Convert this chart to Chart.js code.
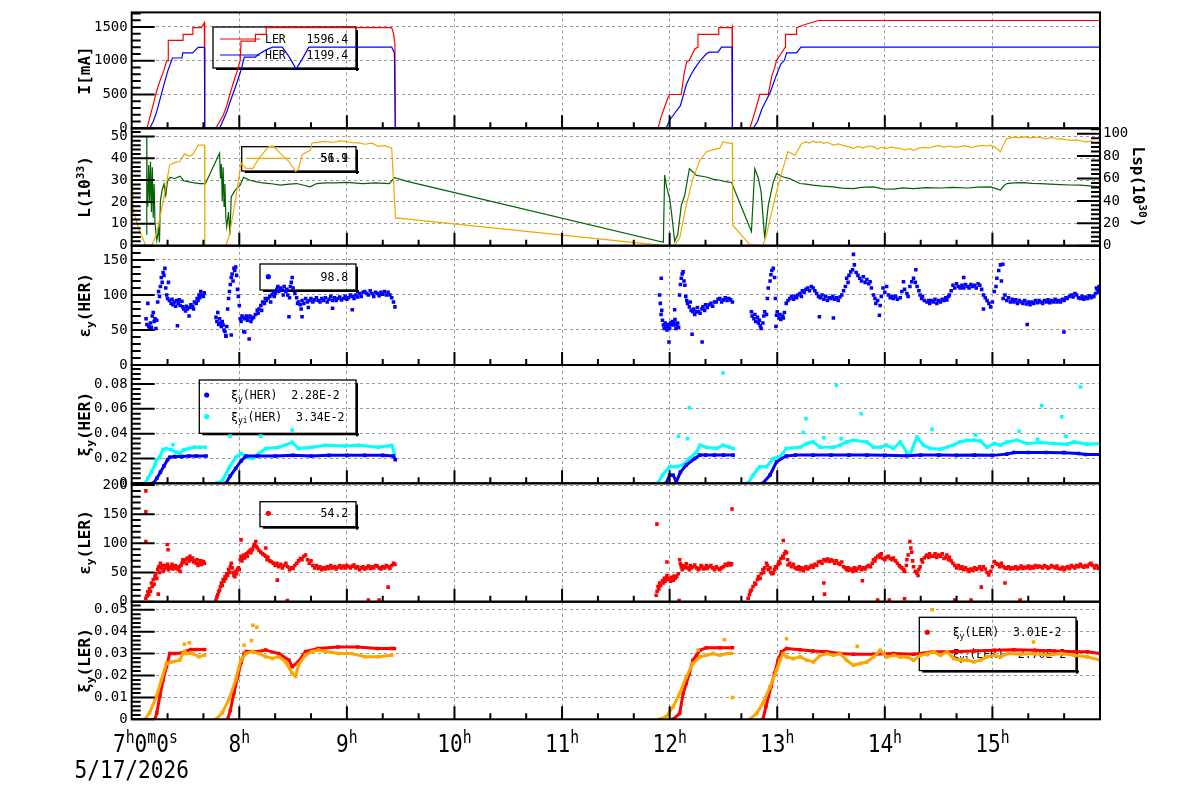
<!DOCTYPE html>
<html>
<head>
<meta charset="utf-8">
<script src="https://cdn.jsdelivr.net/npm/chart.js@4.4.1/dist/chart.umd.min.js"></script>
<style>
  html, body { margin: 0; padding: 0; background: #fff; }
  #wrap { position: relative; width: 1200px; height: 798px; overflow: hidden; }
  #wrap canvas { position: absolute; left: 0; top: 0; }
</style>
</head>
<body>
<div id="wrap"></div>
<script>
// x values are minutes after 07:00 (5/17/2026)
const hourTicks = [60, 120, 180, 240, 300, 360, 420, 480];
const hourLabels = ['8', '9', '10', '11', '12', '13', '14', '15'];

const iTicks = [0, 500, 1000, 1500];
const lumiTicks = [0, 10, 20, 30, 40, 50];
const lspTicks = [0, 20, 40, 60, 80, 100];
const emitHERTicks = [0, 50, 100, 150];
const xiHERTicks = [0, 0.02, 0.04, 0.06, 0.08];
const emitLERTicks = [0, 50, 100, 150, 200];
const xiLERTicks = [0, 0.01, 0.02, 0.03, 0.04, 0.05];

// beam currents [mA]
const currentLER = [[0,0],[8.5,0],[10,150],[12,350],[14,560],[16,720],[18,860],[19.5,1000],[20.3,1000],[20.4,1300],[28.6,1300],[28.7,1390],[34,1390],[34.1,1490],[38.8,1490],[40.5,1560],[40.7,1560],[40.8,0],
  [47,0],[49,100],[51,190],[53,330],[55,527],[57,700],[59,863],[60.5,1006],[61,1290],[68.9,1290],[69,1390],[74.9,1390],[75,1490],[145,1490],[146,1400],[146.8,1246],[147,0],
  [293.5,0],[295,150],[297,300],[299,450],[300,500],[306.5,500],[308,800],[309.5,982],[311,1006],[314,1174],[315.7,1200],[315.8,1390],[327.3,1390],[327.4,1490],[334.7,1490],[334.8,1500],[335,0],
  [344.7,0],[346.5,150],[348.5,330],[350.3,503],[355,503],[357,780],[358.5,887],[359.6,1006],[362,1100],[364.5,1200],[364.6,1390],[370.7,1390],[370.8,1490],[376,1540],[383,1595],[540,1595]];
const currentHER = [[0,0],[10,0],[12,100],[14,250],[16,450],[18,650],[20,838],[22.7,1040],[28,1040],[28.5,1117],[34,1117],[37,1198],[40.6,1198],[40.7,0],
  [49,0],[51,120],[53,240],[55,400],[58,623],[61,862],[62.8,1054],[69,1054],[71,1100],[75,1160],[78.5,1200],[84,1200],[88,1050],[91.7,877],[95,1020],[98.8,1200],[145,1200],[146.5,1120],[147,0],
  [298,0],[300,120],[303,230],[306,335],[309.3,647],[312,800],[314,887],[317,1000],[320.5,1102],[322,1126],[327,1126],[328.9,1200],[334.8,1200],[335,0],
  [346.6,0],[349,100],[351.5,288],[356,527],[359.6,790],[362,950],[364,1006],[365.2,1117],[370.8,1117],[373.2,1200],[540,1200]];

// luminosity L [1e33] (left) and Lsp [1e30] (right)
const lumi = [[0,38.5],[1,15.6],[4.6,6.4],[7.9,0],[11,0],[13.8,5],[17.5,20],[21.2,37],[24,38],[26.8,38.5],[29.5,42],[32,41],[34,41.6],[37,46],[40.6,46],[40.8,0],
  [52.6,0],[54.5,5],[58,21.7],[61,37.8],[63.7,35.5],[67.4,35.3],[71,40],[74,43],[76.6,45.4],[79,45.5],[82,43],[85,40.5],[87.7,38.5],[91.4,34],[93,35],[95,41.6],[97,42.5],[99.5,43.6],[100.6,47],[104,47.3],[108,47.7],[112,47.2],[116,47.9],[119,47.7],[123,47.1],[126.5,47],[130,46.4],[134,46.9],[137.5,45.4],[141,45.8],[145,44.6],[146,30],[147.1,12.5],[148.7,12.6],[297,0],
  [302.5,0],[305.6,3.5],[309.3,18.7],[313,30.8],[316.8,39],[320.5,43],[324,43.8],[328,44.6],[329.8,47.6],[332,47],[335,46.8],[335.1,9.5],[344.7,0.5],[352,0],[354,5],[357.8,18.6],[361.5,30.8],[366,43],[369.9,41.4],[373.6,46.8],[376,47.5],[378,46.9],[380,47.8],[382,47.2],[383.8,47.6],[386,46.8],[388,47.3],[391.3,46],[394,46.6],[397,45.8],[400,45.2],[402.5,44.5],[405,45.4],[408,44.8],[411,45.6],[413.7,45.3],[416,44.2],[418,45],[421,44.5],[424,45.2],[426,44.6],[428.6,44.5],[431,43.8],[434,44.4],[436,43.6],[439,44.6],[442,45],[445,44.7],[447,45.3],[450,45.8],[453,45.1],[456,45.6],[459,45],[462,45.3],[465,45.8],[468,44.9],[471,45.4],[474,45.9],[477,45.6],[479,46],[481,45.2],[483,44],[484.5,43],[486,46],[488,49],[490,49.3],[492,49.7],[495,49.4],[498,49.8],[501,49.3],[504,49.6],[507,49.5],[510,48.9],[513,49.5],[516,48.8],[518,49],[521,48.5],[524,48.2],[527,48.4],[529,48],[532,47.5],[535,47.8],[537,47],[539,47.3],[540,46]];
const lumiSp = [[8.2,10],[8.4,98],[8.6,40],[9,35],[9.5,72],[10,40],[10.5,75],[11,30],[11.5,70],[12,25],[12.5,55],[13,20],[14,5],[15,15],[15.5,3],[16,40],[17,50],[18,55],[19,45],[20,58],[21.4,61],[24,60],[27,62],[29,58],[32,57],[35,56],[38,55.5],[40,55.5],[41,55],[49,82.6],[49.5,60],[50,73],[50.5,40],[51,70],[51.5,35],[52,55],[52.5,25],[53,17],[54,30],[54.8,9.7],[55.5,43.6],[57.7,49.6],[60.5,54],[62.4,61],[66,58.4],[69.8,57],[73,56],[77.2,55.5],[82.8,54],[88,55],[92,55.5],[96,54],[99.5,52.5],[103.2,55.5],[108,56],[114,56],[120,56.5],[129,55.5],[136,56],[143.6,55.5],[146.5,60.8],[154.8,57],[296.5,3],
  [297.2,63],[298,55],[299,48],[300,42],[301,30],[302.8,4],[304.5,9.7],[306.5,36],[308.4,45],[311,68.7],[313,65.8],[315,62.8],[318,62],[320.5,61.3],[324,59.5],[328,58.4],[331,57.2],[334.5,56.4],[345.6,12.7],[347.5,68.8],[349.5,60],[351,48],[353,6.8],[355,36],[357.8,57],[359.6,64.3],[363.4,61.3],[367,59.9],[370,57.5],[372.7,55.5],[376,55],[380,54],[385,53.2],[391.3,52.5],[396,51.4],[402.5,51],[407,52],[413.7,52.5],[419,50.8],[424.8,50.5],[430,51.6],[436,51],[443,51.8],[451,51.5],[458,52],[466,51.5],[472,52.2],[479,52.5],[482,51],[484.5,49.6],[486,53],[488,55.5],[492,56],[497.5,56.3],[502,55.6],[507,55.5],[512,55],[518,54.6],[523,54.2],[529,54],[534,53.4],[540,52.5]];

// vertical emittance HER
const emitHER = [[8,66],[8.5,58],[9,88],[9.5,55],[10,52],[10.5,60],[11,54],[11.5,70],[12,75],[12.5,62],[13,66],[13.5,52],[14,64],[14.5,90],[15,105],[15.5,98],[16,112],[16.5,125],[17,118],[17.5,132],[18,128],[18.5,138],[19,110],[19.5,100],[20,95],[20.5,118],[21,92],[22,88],[22.5,94],[23,86],[24,90],[24.5,84],[25,92],[26,88],[26.5,93],[27,85],[28,91],[28.5,83],[29,80],[30,77],[30.5,84],[31,80],[32,70],[32.5,82],[33,86],[34,84],[34.5,80],[35,90],[36,88],[36.5,95],[37,92],[37.5,100],[38,96],[38.5,105],[39,100],[40,98],[40.5,103],
  [47,68],[47.5,62],[48,75],[48.5,58],[49,66],[49.5,60],[50,55],[50.5,62],[51,57],[51.5,50],[52,48],[52.5,42],[53,55],[53.5,80],[54,95],[54.5,105],[55,115],[55.5,125],[56,130],[56.5,120],[57,138],[57.5,135],[58,140],[58.5,128],[59,108],[59.5,98],[60,85],[60.5,66],[61,62],[61.5,70],[62,68],[62.5,48],[63,66],[64,70],[64.5,64],[65,68],[66,70],[66.5,62],[67,66],[68,68],[69,72],[70,78],[70.5,74],[71,80],[72,85],[72.5,78],[73,90],[74,88],[74.5,95],[75,92],[76,95],[77,98],[77.5,90],[78,100],[79,104],[79.5,98],[80,102],[81,108],[81.5,112],[82,105],[83,110],[84,107],[84.5,100],[85,112],[86,105],[86.5,108],[87,100],[88,96],[88.5,112],[89,118],[89.5,125],[90,110],[91,102],[92,96],[92.5,88],[93,90],[94,86],[94.5,80],[95,92],[96,88],[97,95],[98,90],[98.5,82],[99,92],[100,95],[101,90],[102,93],[103,96],[104,92],[105,90],[106,95],[107,92],[108,96],[109,90],[110,94],[111,98],[112,92],[113,96],[114,92],[115,95],[116,97],[117,93],[118,95],[119,98],[120,94],[121,96],[122,100],[123,98],[124,95],[125,100],[126,97],[127,102],[128,98],[129,104],[130,105],[131,102],[132,100],[133,106],[134,102],[135,98],[136,104],[137,102],[138,99],[139,104],[140,101],[141,105],[142,100],[143,104],[144,100],[145,96],[146,90],[146.8,83],
  [294.4,100],[294.8,88],[295.2,72],[295.6,78],[296,64],[296.5,57],[297,52],[297.5,60],[298,55],[298.5,50],[299,58],[299.5,54],[300,52],[300.5,60],[301,58],[301.5,62],[302,57],[302.5,60],[303,65],[303.5,52],[304,57],[304.5,60],[305,54],[305.5,100],[306,115],[306.5,124],[307,130],[307.5,133],[308,120],[308.5,114],[309,98],[309.5,92],[310,88],[311,83],[311.5,90],[312,78],[313,76],[313.5,80],[314,72],[315,76],[315.5,82],[316,76],[317,74],[318,80],[318.6,83],[319.5,78],[320,86],[321,82],[322,86],[323,88],[324,84],[325,90],[326,90],[327,94],[328,95],[329,90],[330,93],[331,96],[332,92],[333,95],[334,93],[335,90],
  [345.6,76],[346,70],[347,66],[347.5,72],[348,62],[349,68],[349.5,60],[350,64],[350.5,56],[351,52],[352,60],[352.5,70],[353,76],[354,72],[354.5,95],[355,110],[356,120],[356.5,129],[357,135],[357.8,138],[358.5,125],[359,95],[359.6,71],[360,76],[361,67],[361.5,72],[362,65],[363,70],[363.4,67],[364,75],[365,88],[366,92],[367,95],[368,98],[369,94],[370,98],[370.8,96],[371.5,100],[372.7,102],[373.5,98],[374,106],[375,104],[376,108],[377,110],[378,106],[379,112],[380,110],[381,106],[382,102],[383,98],[384,96],[385,100],[386,94],[387,98],[388,92],[389,96],[390,95],[391,98],[392,94],[393,96],[394,92],[395,97],[396,100],[397,106],[398,112],[398.7,124],[399.5,118],[400,128],[401,133],[402,136],[403,143],[404,132],[405,128],[406,124],[407,120],[408,126],[409,118],[410,122],[411,116],[411.8,119],[412.5,110],[413.7,100],[414.5,95],[415,88],[416,92],[417.4,85],[418,98],[419,110],[420,104],[421,112],[422,100],[423,96],[424,98],[424.8,95],[426,98],[427,94],[428.6,96],[429.5,105],[430.4,119],[431,108],[432.3,102],[433,98],[434,112],[435,119],[436,124],[437,118],[438,112],[439,106],[439.7,100],[440.5,95],[441,98],[442,92],[443.5,90],[444.5,92],[445,88],[446,92],[447,90],[448,94],[449,88],[450,92],[451,90],[452,94],[453,92],[454,96],[454.6,93],[455.5,98],[456,100],[457,106],[458,114],[459,110],[460,116],[461,112],[462,110],[463,114],[464,110],[465,115],[466,112],[467,110],[468,115],[469,112],[470,114],[471,110],[472,116],[473,114],[474,108],[475,100],[476,96],[477,92],[478,88],[479,83],[480,90],[481,105],[482,112],[482.5,124],[483.5,135],[484.5,143],[485,120],[486,95],[487,100],[488,92],[489,96],[490,90],[491,94],[492,90],[493,93],[494,88],[495,92],[496,90],[497,88],[498,92],[499,87],[500,90],[501,86],[502,90],[503,88],[504,92],[505,89],[506,92],[507,90],[508,88],[509,92],[510,90],[511,93],[512,89],[513,92],[514,90],[515,94],[516,90],[517,92],[518,90],[519,94],[520,92],[521,96],[521.7,95],[523,98],[524,100],[525,97],[526,102],[527,100],[528,96],[529,95],[530,98],[531,94],[532,97],[533,95],[534,99],[535,96],[536,98],[536.6,98],[537.5,102],[538,110],[538.5,108],[539,104],[539.5,112],[540,105]];
const emitHERStray = [[25.5,56],[87.7,69],[95,69],[112,81],[123,79],[65.5,37],[63,47],[52.6,41],[55.5,43],[295.3,124],[299.6,33],[302.8,79],[312.5,44],[318.1,33],[402.5,158],[437.3,136],[485.8,144],[464,125],[391.3,67],[383.5,69],[417,71],[359.3,55],[475,80],[499.4,58],[519.9,47]];

// vertical beam-beam parameter HER
const xiHER = [[12,0],[14,0.004],[16,0.009],[18,0.014],[20,0.019],[21.2,0.021],[24,0.0215],[28,0.0215],[32,0.022],[36,0.022],[41.5,0.022],[44,null],
  [52.6,0],[55,0.006],[58,0.012],[61,0.018],[63.7,0.0219],[70,0.022],[80,0.022],[90,0.0225],[100,0.022],[110,0.0225],[120,0.0225],[130,0.0225],[140,0.0225],[146,0.022],[147,0.019],[200,null],
  [298,0],[300,0.0067],[302,0.0065],[303.7,0.001],[306,0.009],[309.3,0.0147],[314,0.02],[316.8,0.0227],[320,0.0227],[325,0.0227],[330,0.0227],[335.4,0.0227],[340,null],
  [352,0],[356,0.0067],[359.6,0.0173],[365,0.022],[370,0.0227],[380,0.0227],[390,0.0227],[400,0.0227],[410,0.0227],[420,0.0225],[432,0.0222],[440,0.0227],[450,0.0227],[460,0.0225],[470,0.0227],[480,0.0225],[488,0.0235],[492,0.0248],[500,0.0248],[510,0.0248],[520,0.0247],[528,0.024],[532,0.0232],[540,0.0232]];
const xiiHER = [[7.4,0],[9,0.004],[11,0.009],[13,0.015],[13.8,0.0187],[15.5,0.021],[17.5,0.027],[19,0.028],[22,0.027],[25,0.025],[26.8,0.024],[29,0.027],[32,0.028],[35,0.029],[38,0.029],[41,0.029],[44,null],
  [47,0],[50.5,0.002],[54.5,0.013],[58,0.021],[61,0.024],[63.7,0.021],[67.4,0.02],[71,0.024],[74.8,0.028],[82,0.029],[86,0.031],[89.5,0.033],[93,0.028],[100.6,0.029],[108,0.0307],[119,0.030],[126.5,0.0307],[137.5,0.029],[145,0.0307],[146.5,0.024],[200,null],
  [293.5,0],[296,0.0067],[300,0.0133],[303.7,0.0133],[307.5,0.0147],[311,0.02],[315,0.025],[316.8,0.0307],[320.5,0.029],[326,0.028],[329.8,0.0307],[333.5,0.029],[335.4,0.028],[340,null],
  [343.8,0],[346.6,0.0067],[350.3,0.0133],[354,0.0133],[357.8,0.02],[361.5,0.0213],[365,0.028],[372.7,0.029],[376.5,0.032],[380,0.0333],[384,0.029],[391.3,0.029],[395,0.0307],[398.7,0.0333],[402.5,0.0347],[410,0.0333],[413.7,0.029],[417.4,0.029],[421,0.0307],[424.8,0.028],[428.6,0.0333],[432.3,0.025],[434,0.0227],[437.9,0.0373],[441.6,0.0307],[445.4,0.028],[451,0.0275],[454.6,0.029],[458,0.0307],[462,0.0333],[466,0.0347],[469.7,0.0347],[473.4,0.034],[477,0.029],[481,0.032],[484.5,0.0307],[488,0.0333],[493.8,0.0347],[499.4,0.032],[507,0.0328],[514,0.032],[521.7,0.0315],[525.5,0.0333],[533,0.0315],[540,0.032]];
const xiiHERStray = [[54.8,0.038],[72,0.038],[89.5,0.043],[23,0.031],[329.8,0.0888],[311,0.0608],[305,0.0379],[310,0.036],[376,0.052],[374.6,0.041],[386,0.0367],[393,0.079],[395.6,0.036],[406.8,0.056],[446.3,0.0435],[470.6,0.039],[494.9,0.042],[505.2,0.0355],[507.5,0.0624],[518.7,0.0536],[521,0.038],[529.2,0.0776]];

// vertical emittance LER
const emitLER = [[7.9,6],[8.5,10],[9,17],[9.5,12],[10,22],[10.5,18],[11,32],[11.5,26],[12,38],[12.5,30],[13,43],[13.5,48],[14,40],[14.5,55],[15,60],[15.5,50],[16,66],[16.5,58],[17,62],[17.5,52],[18,55],[18.5,62],[19,58],[19.5,60],[20,64],[20.5,55],[21,60],[22,58],[22.5,64],[23,56],[24,60],[24.5,62],[25,57],[26,55],[26.5,60],[27,52],[27.5,62],[28,66],[28.5,72],[29,68],[30,72],[30.5,65],[31,75],[32,70],[32.5,78],[33,72],[34,75],[34.5,68],[35,70],[36,66],[36.5,72],[37,62],[38,66],[38.5,70],[39,64],[40,69],[40.6,66],
  [47,3],[47.5,8],[48,12],[48.5,17],[49,20],[49.5,26],[50,32],[50.5,28],[51,38],[51.5,35],[52,43],[52.5,40],[53,48],[53.5,45],[54,55],[54.5,50],[55,60],[55.5,66],[56,58],[56.5,50],[57,45],[57.5,43],[58,52],[58.5,48],[59,55],[59.5,58],[60,55],[60.5,72],[61,78],[61.5,70],[62,75],[62.5,80],[63,75],[64,82],[64.5,78],[65,85],[66,88],[66.5,84],[67,90],[67.4,89],[68,95],[68.5,98],[69.2,103],[69.5,95],[70,92],[71,88],[72,85],[73,82],[74,80],[74.8,78],[75.5,72],[76,76],[77,70],[78,68],[79,66],[80,62],[81,66],[82,60],[83,64],[84,58],[85,62],[86,66],[87,60],[88,55],[89,58],[90,57],[91,62],[92,66],[93,70],[94,74],[95,72],[96,78],[97,80],[98,72],[99,66],[100,70],[101,62],[102,58],[103,62],[104,57],[105,60],[106,55],[107,58],[108,56],[109,60],[110,57],[111,62],[112,58],[113,60],[114,56],[115,59],[116,62],[117,58],[118,61],[119,58],[120,62],[121,60],[122,58],[123,61],[124,63],[125,58],[126,60],[127,55],[128,58],[129,60],[130,56],[131,58],[132,61],[133,57],[134,60],[135,58],[136,62],[137,61],[138,58],[139,56],[140,60],[141,58],[142,62],[143,60],[144,57],[145,62],[146,66],[146.8,64],
  [292.5,11],[293,18],[293.5,26],[294,22],[294.4,32],[295,28],[296,36],[296.5,32],[297,40],[297.5,35],[298,40],[298.5,45],[299,38],[300,40],[300.5,35],[301,42],[302,37],[302.5,44],[303,40],[304,43],[304.8,48],[305.6,72],[306,65],[306.5,60],[307,55],[307.5,62],[308,58],[308.5,60],[309.3,65],[310,58],[311,55],[311.5,62],[312,58],[313,60],[314,63],[315,58],[316,55],[316.8,57],[317.5,62],[318,60],[319,56],[320,58],[320.5,62],[321,57],[322,60],[323,62],[324,58],[325,55],[326,60],[327,57],[328,55],[329,58],[330,60],[331,64],[332,62],[333,66],[334,63],[334.5,65],
  [343.8,6],[344.5,12],[345,18],[345.6,20],[346.5,26],[347.5,32],[348,30],[349,38],[349.5,43],[350.5,40],[351,48],[352,55],[352.5,50],[353,58],[354,66],[354.5,62],[355,55],[356,58],[356.5,50],[357,48],[357.8,49],[358.5,55],[359,60],[359.6,58],[360.5,64],[361,69],[361.5,66],[362,74],[363,78],[363.4,75],[364,82],[364.6,86],[365.2,84],[365.8,72],[366,63],[367,66],[368,60],[369,64],[370,58],[371,56],[372,60],[372.7,55],[373.5,58],[374.5,53],[375,57],[376,60],[377,56],[378,59],[379,62],[380,59],[381,64],[382,62],[383,68],[384,69],[385,66],[386,72],[387,70],[388,73],[389,69],[390,72],[391,70],[392,66],[393,70],[394,66],[395,64],[396,68],[397,60],[398,58],[398.7,55],[399.5,58],[400,54],[401,56],[402,52],[402.5,55],[403,58],[404,53],[405,57],[406,60],[407,55],[408,58],[409,56],[410,60],[411,62],[412,60],[413,66],[413.7,72],[414.5,70],[415,75],[416,78],[417,80],[417.4,76],[418,82],[419,74],[420,72],[421,76],[422,78],[423,74],[424,72],[424.8,75],[426,70],[427,66],[428,62],[428.6,60],[429.5,58],[430.4,55],[431,52],[432,62],[432.3,72],[433,80],[434,103],[434.5,92],[435,85],[435.5,70],[436,60],[437,52],[437.9,49],[438.5,45],[439,55],[439.7,60],[440.5,72],[441,68],[442,75],[443,78],[443.5,80],[444.5,76],[445,82],[446,78],[447,78],[448,82],[449,76],[450,80],[451,78],[452,82],[453,74],[454,76],[454.6,80],[455.5,72],[456,76],[457,70],[458,66],[459,62],[460,58],[461,62],[462,57],[463,60],[464,55],[465,58],[466,55],[467,52],[468,56],[469,54],[470,58],[471,55],[472,57],[473,60],[474,55],[475,60],[476,56],[477,50],[478,46],[479,52],[480,60],[481,69],[482,66],[483,64],[484,60],[484.5,63],[485,66],[486,60],[487,58],[488,57],[489,60],[490,56],[491,58],[492,57],[493,60],[494,56],[495,58],[496,61],[497,57],[498,59],[499,58],[500,61],[501,57],[502,60],[503,58],[504,62],[505,59],[506,61],[507,60],[508,58],[509,62],[510,60],[511,57],[512,59],[513,62],[514,60],[515,58],[516,61],[517,57],[518,56],[519,59],[520,55],[521,58],[522,60],[523,57],[524,62],[525,60],[526,58],[527,62],[528,60],[529,64],[530,61],[531,59],[532,62],[533,60],[534,64],[535,66],[536,62],[537,58],[538,62],[539,57],[540,60]];
const emitLERStray = [[7.9,190],[7.9,154],[7.9,103],[14.8,13],[20.3,89],[19.8,98],[61,106],[74.8,92],[81.2,37],[86.8,2],[132,3],[138,3],[143,25],[292.9,133],[334.8,159],[305.3,2],[298.5,68],[363.4,105],[386,32],[386.4,13],[407.5,36],[416,3],[422.5,3],[431,5],[459,3],[468.1,3],[473.8,25],[487,32],[495.5,3]];

// vertical beam-beam parameter LER
const xiLER = [[13,0],[14,0.003],[15.7,0.0105],[17.5,0.018],[19.4,0.024],[21.2,0.030],[24,0.030],[28,0.0303],[30,0.031],[33,0.0319],[36,0.0319],[40.6,0.0319],[44,null],
  [53.5,0],[55,0.004],[57,0.012],[59,0.019],[61,0.026],[62.8,0.030],[64,0.031],[71,0.031],[74.8,0.0316],[82,0.030],[87.7,0.027],[89.5,0.024],[93,0.0263],[97,0.031],[104,0.0323],[115,0.033],[126,0.033],[137,0.0323],[145,0.0323],[146.5,0.0323],[200,null],
  [302,0],[305.6,0.0027],[307.5,0.0118],[309.3,0.0164],[311,0.021],[313,0.027],[315,0.0292],[316.8,0.0315],[320.5,0.0327],[328,0.0327],[335,0.0327],[340,null],
  [352,0],[353.7,0.0058],[356.5,0.0148],[358.5,0.021],[360.5,0.027],[362.4,0.0308],[365.2,0.0323],[372.7,0.0318],[380,0.0312],[387.5,0.0308],[395,0.030],[402.5,0.0297],[413.7,0.0297],[425,0.030],[436,0.0297],[447,0.0308],[458,0.0308],[469.7,0.0312],[481,0.0315],[492,0.0318],[503.5,0.0315],[514.6,0.0312],[525.8,0.0308],[533,0.0308],[540,0.030]];
const xiiLER = [[7.4,0],[10,0.003],[13.8,0.0105],[16.6,0.018],[19.4,0.0256],[23,0.0263],[26.8,0.027],[28.6,0.030],[29.5,0.031],[30.5,0.030],[34,0.030],[37.6,0.0286],[40.6,0.0293],[44,null],
  [47,0],[50.5,0.003],[54.2,0.009],[58,0.018],[60.8,0.027],[63.7,0.030],[67.4,0.031],[71,0.030],[74.8,0.0286],[78.5,0.0278],[82,0.0286],[85.8,0.0263],[89.5,0.021],[91.4,0.0195],[93,0.0248],[96.9,0.0293],[100.6,0.031],[104.3,0.0316],[108,0.031],[115.4,0.030],[122.8,0.030],[130.2,0.0286],[137.5,0.0286],[145,0.0293],[200,null],
  [294.4,0],[298,0.0012],[302,0.0058],[305.6,0.0118],[309.3,0.0194],[313,0.0255],[316.8,0.0285],[320.5,0.0292],[324.2,0.030],[328,0.0292],[331.7,0.030],[334.5,0.030],[340,null],
  [344.7,0],[348.5,0.0027],[352,0.0073],[356,0.0148],[359.6,0.0224],[361.5,0.027],[363.4,0.030],[365.2,0.0285],[369,0.0277],[372.7,0.0285],[376.5,0.027],[380.2,0.0262],[384,0.0292],[387.7,0.030],[391.4,0.0292],[395,0.030],[398.7,0.027],[402.5,0.0247],[406.3,0.0255],[410,0.0262],[413.7,0.0285],[417.4,0.0315],[421.2,0.0285],[425,0.0292],[428.6,0.0285],[432.4,0.0285],[436,0.027],[440,0.0292],[443.5,0.030],[447.3,0.0308],[451,0.0292],[454.7,0.0308],[458.5,0.0277],[462.2,0.027],[466,0.027],[469.7,0.0262],[473.4,0.027],[477,0.0285],[481,0.0292],[484.6,0.0285],[488.3,0.030],[495.8,0.0297],[503.2,0.030],[510.7,0.0292],[518.2,0.030],[525.6,0.0292],[533,0.0285],[540,0.027]];
const xiiLERStray = [[67.6,0.0429],[69.8,0.042],[66.8,0.036],[62.7,0.0338],[32.2,0.035],[29.4,0.0343],[365.2,0.0368],[446.5,0.05],[502.9,0.0353],[335,0.01],[330.5,0.0363],[315.8,0.0315],[404.6,0.0333]];

const RED = '#ff0000', BLUE = '#0000ff', CYAN = '#00ffff', GOLD = '#eeaa00', ORANGE = '#ffa500', GREEN = '#006400';
const MONO = '"DejaVu Sans Mono", monospace';
const AXIS_LEFT = 131.7;

const xy = arr => arr.map(([x, y]) => ({ x, y }));
function lineSet(data, color, width, axis) {
  return { data: xy(data), borderColor: color, borderWidth: width, pointRadius: 0, yAxisID: axis || 'y' };
}
function dotSet(data, color, r) {
  return { data: xy(data), showLine: false, pointStyle: 'rect', pointRadius: r, pointBackgroundColor: color, pointBorderWidth: 0, borderColor: color };
}
function bandSet(data, color, width) {
  return { data: xy(data), borderColor: color, borderWidth: width, borderJoinStyle: 'round', pointStyle: 'rect', pointRadius: 2.5, pointBackgroundColor: color, pointBorderWidth: 0 };
}

function drawRich(ctx, parts, x, y, size, weight, align) {
  let w = 0;
  for (const [t, k] of parts) { ctx.font = `${weight} ${k ? size * 0.7 : size}px ${MONO}`; w += ctx.measureText(t).width; }
  let cx = align === 'center' ? x - w / 2 : x;
  for (const [t, k] of parts) {
    ctx.font = `${weight} ${k ? size * 0.7 : size}px ${MONO}`;
    const dy = k === 'sup' ? -size * 0.36 : k === 'sub' ? size * 0.22 : 0;
    ctx.fillText(t, cx, y + dy);
    cx += ctx.measureText(t).width;
  }
}

function drawLegend(ctx, lg) {
  const b = lg.box;
  ctx.save();
  ctx.fillStyle = '#000';
  ctx.fillRect(b.x + 3, b.y + b.h, b.w, 2);
  ctx.fillRect(b.x + b.w, b.y + 3, 2, b.h);
  ctx.strokeStyle = '#000';
  ctx.lineWidth = 1.3;
  ctx.strokeRect(b.x, b.y, b.w, b.h);
  for (const e of lg.entries) {
    if (e.line) {
      ctx.strokeStyle = e.color; ctx.lineWidth = 1.2;
      ctx.beginPath(); ctx.moveTo(e.line[0], e.y); ctx.lineTo(e.line[1], e.y); ctx.stroke();
    }
    if (e.dot) {
      ctx.fillStyle = e.color;
      ctx.beginPath(); ctx.arc(e.dot, e.y, 2.6, 0, Math.PI * 2); ctx.fill();
    }
    ctx.fillStyle = '#000';
    ctx.textBaseline = 'alphabetic';
    for (const t of e.texts) drawRich(ctx, t, e.tx, e.y + 4, 11.5, 'normal', 'left');
  }
  ctx.restore();
}

const panelFrame = {
  id: 'panelFrame',
  beforeDatasetsDraw(chart, args, o) {
    if (o.legend) drawLegend(chart.ctx, o.legend);
  },
  afterDraw(chart, args, o) {
    const { ctx, chartArea: a, scales } = chart;
    ctx.save();
    ctx.strokeStyle = '#000';
    ctx.lineWidth = 2;
    ctx.beginPath();
    const y = scales.y;
    for (let k = 0; k * o.minor <= y.max + 1e-9; k++) {
      const py = y.getPixelForValue(k * o.minor);
      const len = k % 5 === 0 ? 23 : 9;
      ctx.moveTo(a.left, py); ctx.lineTo(a.left + len, py);
    }
    if (scales.y2) {
      const y2 = scales.y2;
      for (let k = 0; k * o.minor2 <= y2.max + 1e-9; k++) {
        const py = y2.getPixelForValue(k * o.minor2);
        const len = k % 5 === 0 ? 23 : 9;
        ctx.moveTo(a.right, py); ctx.lineTo(a.right - len, py);
      }
    }
    const x = scales.x;
    for (let k = 1; k < 27; k++) {
      const px = x.getPixelForValue(k * 20);
      ctx.moveTo(px, a.bottom); ctx.lineTo(px, a.bottom - (k % 3 === 0 ? 13 : 6));
    }
    ctx.stroke();
    ctx.strokeRect(a.left, a.top, a.right - a.left, a.bottom - a.top);

    ctx.fillStyle = '#000';
    ctx.textBaseline = 'alphabetic';
    const cy = (a.top + a.bottom) / 2;
    ctx.save();
    ctx.translate(90, cy); ctx.rotate(-Math.PI / 2);
    drawRich(ctx, o.title, 0, 0, 16, 'bold', 'center');
    ctx.restore();
    if (o.rightTitle) {
      ctx.save();
      ctx.translate(1133, cy); ctx.rotate(Math.PI / 2);
      drawRich(ctx, o.rightTitle, 0, 0, 16, 'bold', 'center');
      ctx.restore();
    }
    if (o.timeLabels) {
      hourTicks.forEach((v, i) => {
        ctx.save();
        ctx.translate(x.getPixelForValue(v), 752); ctx.scale(0.88, 1);
        drawRich(ctx, [[hourLabels[i]], ['h', 'sup']], 0, 0, 24, 'normal', 'center');
        ctx.restore();
      });
      ctx.save();
      ctx.translate(113, 752); ctx.scale(0.88, 1);
      drawRich(ctx, [['7'], ['h', 'sup'], ['0'], ['m', 'sup'], ['0'], ['s', 'sup']], 0, 0, 24, 'normal', 'left');
      ctx.restore();
      ctx.save();
      ctx.translate(74.5, 778); ctx.scale(0.88, 1);
      drawRich(ctx, [['5/17/2026']], 0, 0, 24, 'normal', 'left');
      ctx.restore();
    }
    ctx.restore();
  }
};

const tickFont = { family: MONO, size: 14 };
function yScale(max, ticks) {
  return {
    type: 'linear', position: 'left', min: 0, max: max,
    afterBuildTicks: s => { s.ticks = ticks.map(v => ({ value: v })); },
    afterFit: s => { s.width = AXIS_LEFT; },
    ticks: { color: '#000', font: tickFont, padding: 4, autoSkip: false, callback: v => String(v) },
    grid: { color: '#9a9a9a', drawTicks: false },
    border: { display: false, dash: [3, 3] }
  };
}

const panels = [
  { top: 9, bottom: 128.3, yMax: 1715, ticks: iTicks, minor: 100, title: [['I[mA]']],
    datasets: [lineSet(currentHER, BLUE, 1.2), lineSet(currentLER, RED, 1.2)],
    legend: { box: { x: 213, y: 27, w: 143, h: 41 }, entries: [
      { line: [220, 260], y: 39, color: RED, tx: 265, texts: [[['LER   1596.4']]] },
      { line: [220, 260], y: 55, color: BLUE, tx: 265, texts: [[['HER   1199.4']]] }] } },
  { top: 128.3, bottom: 245.7, yMax: 53.7, ticks: lumiTicks, minor: 2, minor2: 4,
    title: [['L(10'], ['33', 'sup'], [')']], rightTitle: [['Lsp(10'], ['30', 'sup'], [')']],
    datasets: [lineSet(lumi, GOLD, 1.2), lineSet(lumiSp, GREEN, 1.2, 'y2')],
    legend: { box: { x: 241.7, y: 146.7, w: 114.3, h: 24.3 }, entries: [
      { line: [246.7, 290], y: 158.3, color: GOLD, tx: 320.6, texts: [[['56.9']], [['51.1']]] }] } },
  { top: 245.7, bottom: 365, yMax: 170.4, ticks: emitHERTicks, minor: 10, title: [['ε'], ['y', 'sub'], ['(HER)']],
    datasets: [dotSet(emitHER, BLUE, 2.5), dotSet(emitHERStray, BLUE, 2.5)],
    legend: { box: { x: 260, y: 264, w: 96, h: 26 }, entries: [
      { dot: 268.3, y: 276.7, color: BLUE, tx: 320.6, texts: [[['98.8']]] }] } },
  { top: 365, bottom: 483.3, yMax: 0.0953, ticks: xiHERTicks, minor: 0.004, title: [['ξ'], ['y', 'sub'], ['(HER)']],
    datasets: [bandSet(xiHER, BLUE, 3), bandSet(xiiHER, CYAN, 3), dotSet(xiiHERStray, CYAN, 2.5)],
    legend: { box: { x: 199.3, y: 380, w: 156.7, h: 53.3 }, entries: [
      { dot: 206.7, y: 395, color: BLUE, tx: 231, texts: [[['ξ'], ['y', 'sub'], ['(HER)  2.28E-2']]] },
      { dot: 206.7, y: 416.7, color: CYAN, tx: 231, texts: [[['ξ'], ['yi', 'sub'], ['(HER)  3.34E-2']]] }] } },
  { top: 483.3, bottom: 601.7, yMax: 203, ticks: emitLERTicks, minor: 10, title: [['ε'], ['y', 'sub'], ['(LER)']],
    datasets: [dotSet(emitLER, RED, 2.5), dotSet(emitLERStray, RED, 2.5)],
    legend: { box: { x: 260, y: 501.7, w: 96, h: 25 }, entries: [
      { dot: 268.3, y: 513.3, color: RED, tx: 320.6, texts: [[['54.2']]] }] } },
  { top: 601.7, bottom: 719.3, yMax: 0.0537, ticks: xiLERTicks, minor: 0.002, title: [['ξ'], ['y', 'sub'], ['(LER)']], timeLabels: true,
    datasets: [dotSet(xiiLERStray, ORANGE, 2.5), bandSet(xiiLER, ORANGE, 3), bandSet(xiLER, RED, 3)],
    legend: { box: { x: 919.3, y: 617.3, w: 156.7, h: 53.3 }, entries: [
      { dot: 927.3, y: 632.3, color: RED, tx: 952.7, texts: [[['ξ'], ['y', 'sub'], ['(LER)  3.01E-2']]] },
      { dot: 927.3, y: 654, color: ORANGE, tx: 952.7, texts: [[['ξ'], ['yi', 'sub'], ['(LER)  2.70E-2']]] }] } }
];

const wrap = document.getElementById('wrap');
panels.forEach(p => {
  const canvas = document.createElement('canvas');
  canvas.width = 1200; canvas.height = 798;
  wrap.appendChild(canvas);
  const scales = {
    x: {
      type: 'linear', min: 0, max: 540,
      afterBuildTicks: s => { s.ticks = hourTicks.map(v => ({ value: v })); },
      afterFit: s => { s.height = 0; },
      ticks: { display: false },
      grid: { color: '#9a9a9a', drawTicks: false },
      border: { display: false, dash: [3, 3] }
    },
    y: yScale(p.yMax, p.ticks)
  };
  if (p.rightTitle) {
    scales.y2 = {
      type: 'linear', position: 'right', min: 0, max: 104.8,
      afterBuildTicks: s => { s.ticks = lspTicks.map(v => ({ value: v })); },
      afterFit: s => { s.width = 100; },
      ticks: { color: '#000', font: tickFont, padding: 3, autoSkip: false, callback: v => String(v) },
      grid: { drawOnChartArea: false, drawTicks: false },
      border: { display: false }
    };
  }
  new Chart(canvas, {
    type: 'line',
    data: { datasets: p.datasets },
    options: {
      responsive: false,
      animation: false,
      events: [],
      spanGaps: false,
      layout: { autoPadding: false, padding: { left: 0, top: p.top, bottom: 798 - p.bottom, right: p.rightTitle ? 0 : 100 } },
      plugins: {
        legend: { display: false },
        tooltip: { enabled: false },
        panelFrame: { title: p.title, rightTitle: p.rightTitle, minor: p.minor, minor2: p.minor2, legend: p.legend, timeLabels: p.timeLabels }
      },
      scales: scales
    },
    plugins: [panelFrame]
  });
});
</script>
</body>
</html>
